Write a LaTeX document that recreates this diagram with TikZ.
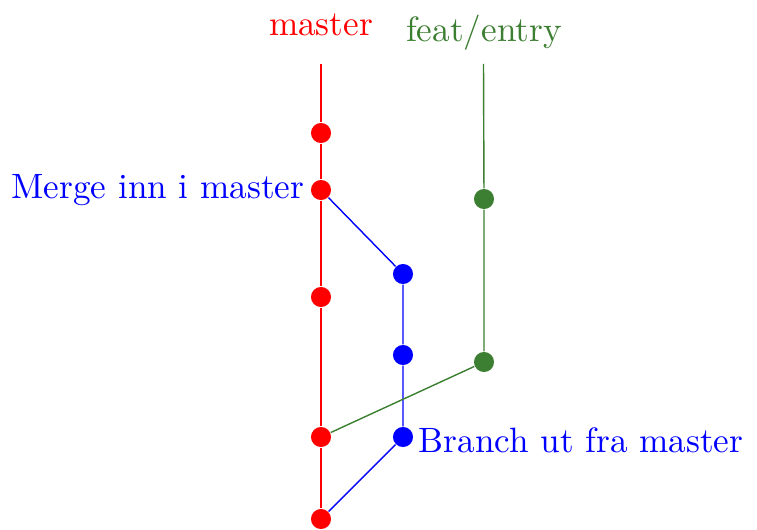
\documentclass[tikz,border=0pt]{standalone}
\definecolor{featgreen}{RGB}{61,127,50}
\begin{document}
\begin{tikzpicture}[x=0.2841pt,y=-0.2841pt,
  dot/.style={circle,fill=#1,inner sep=0pt,minimum size=5.7pt}]
\useasboundingbox (0,0) rectangle (757,530);
% master
\coordinate (mtop) at (321,64);
\node[dot=red] (m1) at (321,133) {};
\node[dot=red] (m2) at (321,190) {};
\node[dot=red] (m3) at (321,297) {};
\node[dot=red] (m4) at (321,437) {};
\node[dot=red] (m5) at (321,519) {};
% blue branch
\node[dot=blue] (b1) at (403,274) {};
\node[dot=blue] (b2) at (403,355) {};
\node[dot=blue] (b3) at (403,437) {};
% green
\coordinate (gtop) at (483.5,64);
\node[dot=featgreen] (g1) at (484,199) {};
\node[dot=featgreen] (g2) at (484,362) {};
% labels
\node[text=red] (lm) at (321,25) {master};
\node[text=featgreen] (lf) at (484,33) {feat/entry};
\node[text=blue,anchor=east,inner sep=0pt] (lmerge) at (305,190) {Merge inn i master};
\node[text=blue,anchor=west,inner sep=0pt] (lbranch) at (418,440) {Branch ut fra master};
% lines
\draw[red] (mtop) -- (m1) -- (m2) -- (m3) -- (m4) -- (m5);
\draw[blue] (m5) -- (b3) -- (b2) -- (b1) -- (m2);
\draw[featgreen] (gtop) -- (g1) -- (g2) -- (m4);
\end{tikzpicture}
\end{document}
